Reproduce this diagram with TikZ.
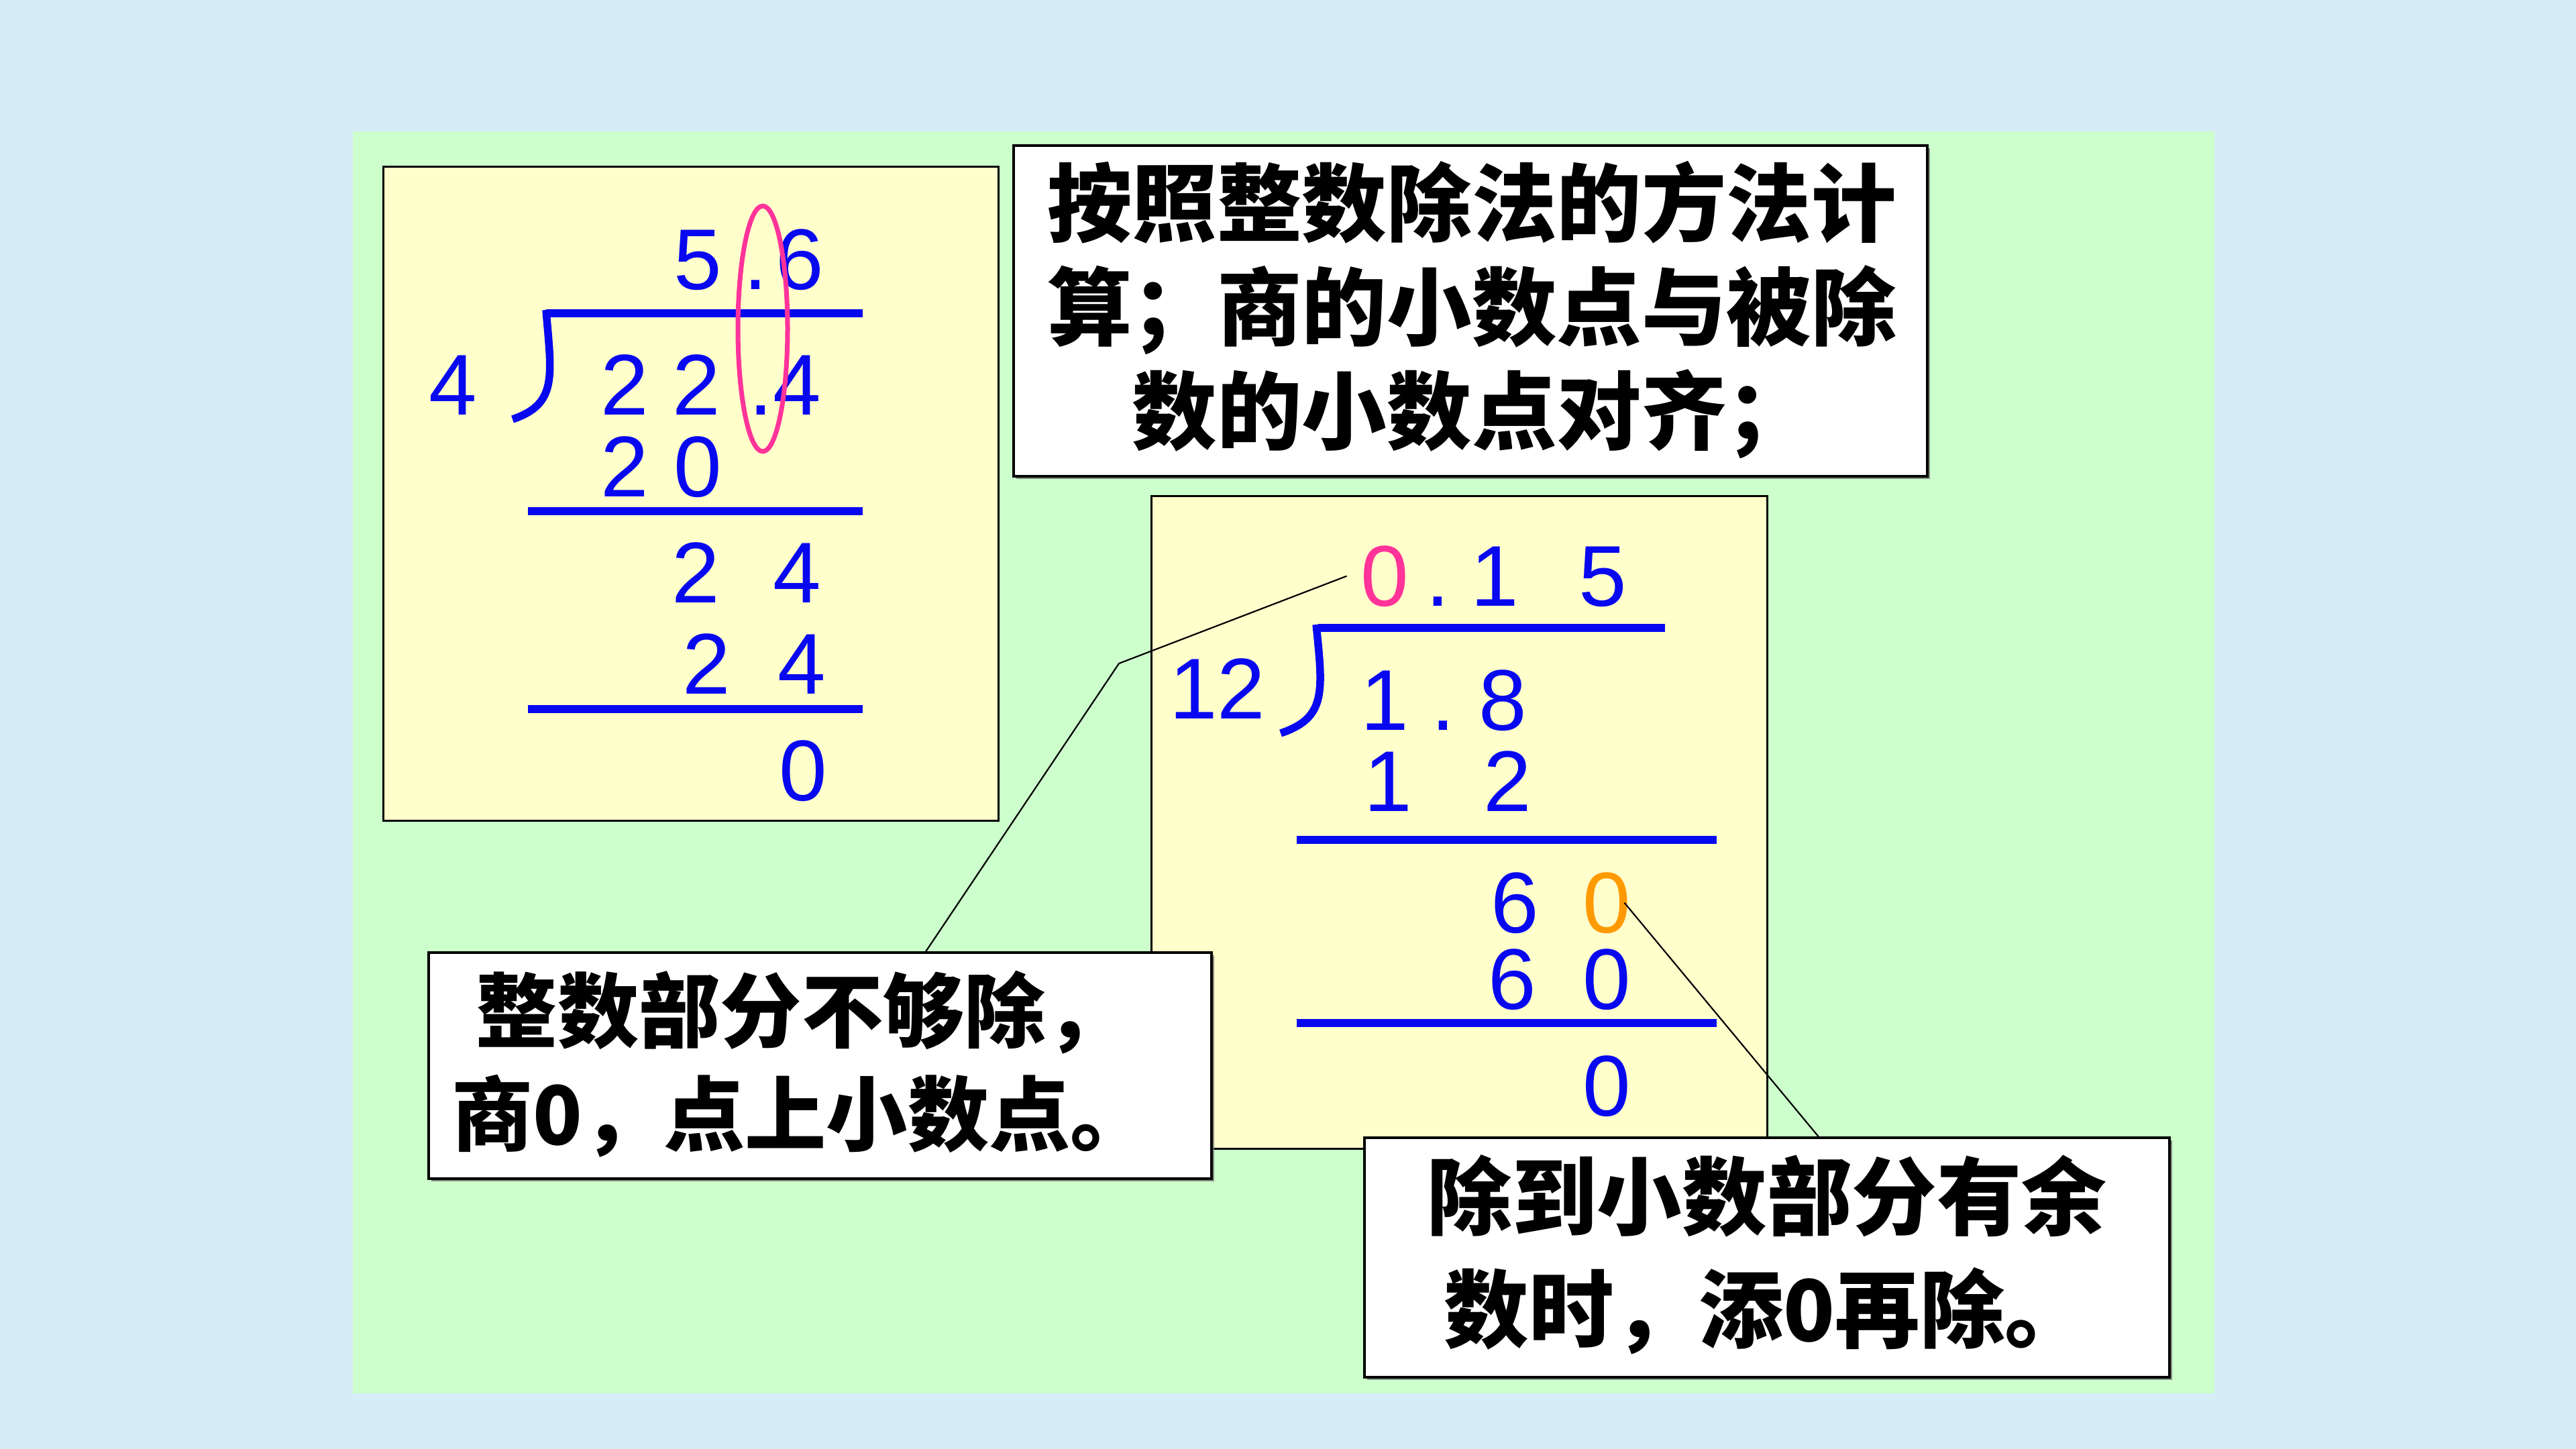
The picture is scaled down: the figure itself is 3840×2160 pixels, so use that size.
\documentclass[tikz,border=0pt]{standalone}
\usepackage{fontspec}
\newfontfamily\cjk{Noto Sans CJK SC}
\newfontfamily\arialf{Liberation Sans}
\usetikzlibrary{shadows,shapes.geometric}
\definecolor{bgblue}{RGB}{214,236,246}
\definecolor{panelgreen}{RGB}{204,255,204}
\definecolor{paleyellow}{RGB}{255,255,204}
\definecolor{dblue}{RGB}{8,8,240}
\definecolor{hotpink}{RGB}{255,51,153}
\definecolor{qorange}{RGB}{255,153,0}
\tikzset{
  dig/.style={font=\arialf\fontsize{36.6}{40}\selectfont, text=dblue, inner sep=0pt, anchor=base},
  divline/.style={draw=dblue, line width=1.15mm},
  hook/.style={draw=dblue, line width=1.15mm, line cap=butt},
  ybox/.style={draw=black, fill=paleyellow, line width=0.3mm, inner sep=0pt},
  wbox/.style={draw=black, fill=white, line width=0.4mm, inner sep=0pt,
    drop shadow={shadow xshift=0.35mm, shadow yshift=-0.35mm, fill=black!55, opacity=0.8}},
  cjktext/.style={align=center, inner sep=0pt, text=black},
  leader/.style={draw=black, line width=0.22mm}
}
\begin{document}
\begin{tikzpicture}[x=0.1mm,y=-0.1mm]
\useasboundingbox (0,0) rectangle (3840,2160);
\fill[bgblue] (0,0) rectangle (3840,2160);
\node[fill=panelgreen, inner sep=0pt, minimum width=277.5mm, minimum height=188.1mm] (panel) at (1913.5,1136.5) {};

% left yellow box
\node[ybox, minimum width=91.7mm, minimum height=97.5mm] (ly) at (1029.5,735.5) {};

% top white box
\node[wbox, minimum width=136.2mm, minimum height=49.3mm] (tw) at (2192,463.5) {};
\node[cjktext, font=\cjk\bfseries\fontsize{36}{44.1}\selectfont] (twt) at (2194,462)
  {按照整数除法的方法计\\算；商的小数点与被除\\数的小数点对齐；};

% right yellow box
\node[ybox, minimum width=91.8mm, minimum height=97.3mm] (ry) at (2175,1225.5) {};

% ---- left division 22.4 / 4
\node[dig] (a5) at (1040,431) {5};
\node[dig] (ad) at (1126,431) {.};
\node[dig] (a6) at (1192,431) {6};
\draw[divline] (814,467) -- (1286,467);
\draw[hook] (814,462) .. controls (822,560) and (832,602) .. (764,625);
\node[dig] (adv) at (675,618) {4};
\node[dig] (b1) at (931,618) {2};
\node[dig] (b2) at (1038,618) {2};
\node[dig] (bd) at (1134,618) {.};
\node[dig] (b4) at (1188,618) {4};
\node[dig] (c2) at (931,740) {2};
\node[dig] (c0) at (1040,740) {0};
\draw[divline] (787,762) -- (1286,762);
\node[dig] (d2) at (1037,898) {2};
\node[dig] (d4) at (1188,898) {4};
\node[dig] (e2) at (1053,1034) {2};
\node[dig] (e4) at (1195,1034) {4};
\draw[divline] (787,1057) -- (1286,1057);
\node[dig] (f0) at (1197,1193) {0};
\node[draw=hotpink, line width=0.7mm, ellipse, inner sep=0pt, minimum width=7.4mm, minimum height=36.6mm] (ell) at (1137,490) {};

% ---- right division 1.8 / 12
\node[dig, text=hotpink] (q0) at (2064,903) {0};
\node[dig] (qd) at (2143,903) {.};
\node[dig] (q1) at (2228,903) {1};
\node[dig] (q5) at (2389,903) {5};
\draw[divline] (1965,936) -- (2482,936);
\draw[hook] (1962,931) .. controls (1972,1030) and (1978,1070) .. (1909,1093);
\node[dig] (dv) at (1815,1071) {12};
\node[dig] (g1) at (2064,1088) {1};
\node[dig] (gd) at (2151,1088) {.};
\node[dig] (g8) at (2240,1088) {8};
\node[dig] (h1) at (2069,1209) {1};
\node[dig] (h2) at (2247,1209) {2};
\draw[divline] (1933,1252) -- (2559,1252);
\node[dig] (i6) at (2258,1390) {6};
\node[dig, text=qorange] (o0) at (2395,1390) {0};
\node[dig] (j6) at (2254,1504) {6};
\node[dig] (j0) at (2395,1504) {0};
\draw[divline] (1933,1525) -- (2559,1525);
\node[dig] (k0) at (2395,1663) {0};

% leaders
\coordinate (pA) at (1668,989);
\coordinate (pB) at (1379,1420);
\coordinate (oB) at (2713,1697);
\draw[leader] ([xshift=-2mm]q0.west) -- (pA) -- (pB);
\draw[leader] ([xshift=-1mm]o0.east) -- (oB);

% bottom-left white box
\node[wbox, minimum width=116.7mm, minimum height=33.7mm] (bl) at (1222.5,1588.5) {};
\node[cjktext, font=\cjk\bfseries\fontsize{34.5}{43.8}\selectfont] (blt) at (1195,1586)
  {整数部分不够除，\\商0，点上小数点。};

% bottom-right white box
\node[wbox, minimum width=120mm, minimum height=35.7mm] (br) at (2634,1874.5) {};
\node[cjktext, font=\cjk\bfseries\fontsize{36}{47.8}\selectfont] (brt) at (2634,1870)
  {除到小数部分有余\\数时，添0再除。};
\end{tikzpicture}
\end{document}
